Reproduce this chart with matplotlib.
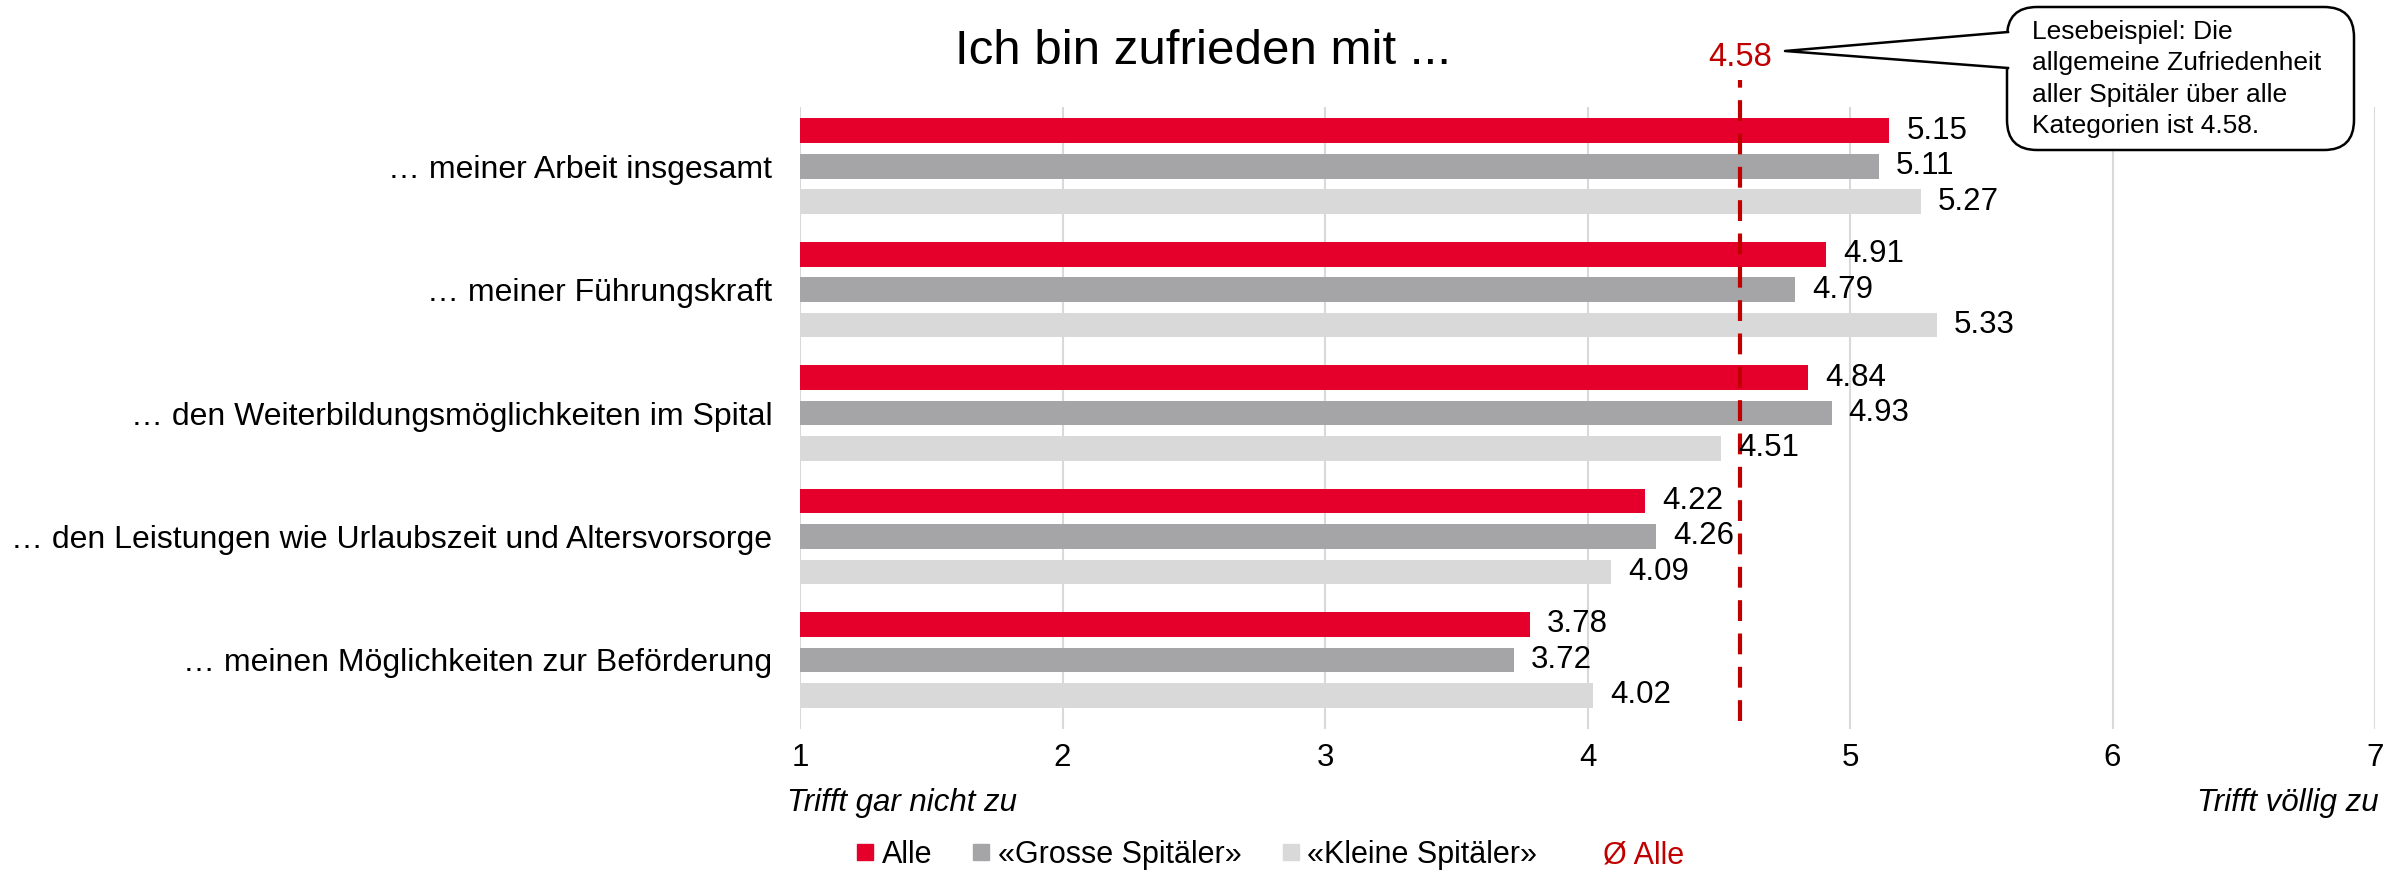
import matplotlib
matplotlib.use("Agg")
import matplotlib.pyplot as plt
from matplotlib.lines import Line2D
from matplotlib.patches import FancyBboxPatch, Polygon
import numpy as np

plt.rcParams['font.family'] = ['Liberation Sans', 'DejaVu Sans']

# daten
categories = [
    "… meiner Arbeit insgesamt",
    "… meiner Führungskraft",
    "… den Weiterbildungsmöglichkeiten im Spital",
    "… den Leistungen wie Urlaubszeit und Altersvorsorge",
    "… meinen Möglichkeiten zur Beförderung",
]
alle = [5.15, 4.91, 4.84, 4.22, 3.78]
gross = [5.11, 4.79, 4.93, 4.26, 3.72]
klein = [5.27, 5.33, 4.51, 4.09, 4.02]
mean_alle = 4.58
x_ticks = [1, 2, 3, 4, 5, 6, 7]
series_names = ["Alle", "«Grosse Spitäler»", "«Kleine Spitäler»"]

red = "#E4002B"
gray = "#A5A5A8"
light = "#D9D9D9"
dark_red = "#C00000"

W, H = 2407, 872
fig = plt.figure(figsize=(W / 100, H / 100), dpi=100)
ax = fig.add_axes([800 / W, 1 - 729 / H, 1575 / W, 622 / H])

y = np.arange(len(categories))
off = 0.287
bh = 0.2
for vals, dy, col in [(alle, -off, red), (gross, 0, gray), (klein, off, light)]:
    ax.barh(y + dy, vals, height=bh, color=col, zorder=2)
    for yy, v in zip(y + dy, vals):
        ax.text(v + 0.065, yy, f"{v:.2f}", va="center", ha="left", fontsize=22.5, zorder=4)

# mittelwert-linie
ax.axvline(mean_alle, ymin=0.013, ymax=1.043, color=dark_red, lw=3,
           dashes=(5, 3), clip_on=False, zorder=3)
ax.text(mean_alle, 1.08, f"{mean_alle:.2f}", color=dark_red, fontsize=23.5,
        ha="center", va="center", transform=ax.get_xaxis_transform())

ax.set_xlim(1, 7)
ax.set_ylim(4.56, -0.48)
ax.set_xticks(x_ticks)
ax.set_xticklabels([str(t) for t in x_ticks], fontsize=22.5)
ax.set_yticks(y)
ax.set_yticklabels(categories, fontsize=23)
ax.tick_params(axis="both", length=0)
ax.tick_params(axis="x", pad=10)
ax.tick_params(axis="y", pad=20)
ax.grid(axis="x", color="#D9D9D9", lw=1.5, zorder=0)
for s in ax.spines.values():
    s.set_visible(False)

# titel und achsenbeschriftung
fig.text(1203 / W, 1 - 51 / H, "Ich bin zufrieden mit ...", fontsize=35.5, ha="center", va="center")
fig.text(787 / W, 1 - 803 / H, "Trifft gar nicht zu", fontsize=22.5, style="italic", ha="left", va="center")
fig.text(2379 / W, 1 - 803 / H, "Trifft völlig zu", fontsize=22.5, style="italic", ha="right", va="center")

# legende
handles = [Line2D([], [], ls="none", marker="s", markersize=12, color=c) for c in (red, gray, light)]
handles.append(Line2D([], [], ls="none"))
leg = fig.legend(handles, series_names + ["Ø Alle"], loc="center", ncol=4,
                 bbox_to_anchor=(1270 / W, 1 - 855 / H), frameon=False, fontsize=22,
                 handlelength=0.6, handletextpad=0.25, columnspacing=1.3)
leg.get_texts()[3].set_color(dark_red)

# sprechblase
tr = fig.dpi_scale_trans
bx0, by0, bx1, by1 = 2007, 7, 2354, 150
box = FancyBboxPatch(((bx0) / 100, (H - by1) / 100), (bx1 - bx0) / 100, (by1 - by0) / 100,
                     boxstyle="round,pad=0,rounding_size=0.3", transform=tr,
                     facecolor="white", edgecolor="black", lw=1.8, zorder=5)
fig.patches.append(box)
tip = (1785 / 100, (H - 51) / 100)
p_top = (2008 / 100, (H - 32) / 100)
p_bot = (2008 / 100, (H - 68) / 100)
cover = Polygon([tip, p_top, (2012 / 100, (H - 32) / 100), (2012 / 100, (H - 68) / 100), p_bot],
                closed=True, transform=tr, facecolor="white", edgecolor="none", zorder=6)
fig.patches.append(cover)
fig.lines.append(Line2D([p_top[0], tip[0], p_bot[0]], [p_top[1], tip[1], p_bot[1]],
                        transform=tr, color="black", lw=1.8, zorder=7))
fig.text(2032 / W, 1 - 79 / H,
         "Lesebeispiel: Die\nallgemeine Zufriedenheit\naller Spitäler über alle\nKategorien ist 4.58.",
         fontsize=19, ha="left", va="center", linespacing=1.38, zorder=8)

fig.savefig("out.png", dpi=100)
